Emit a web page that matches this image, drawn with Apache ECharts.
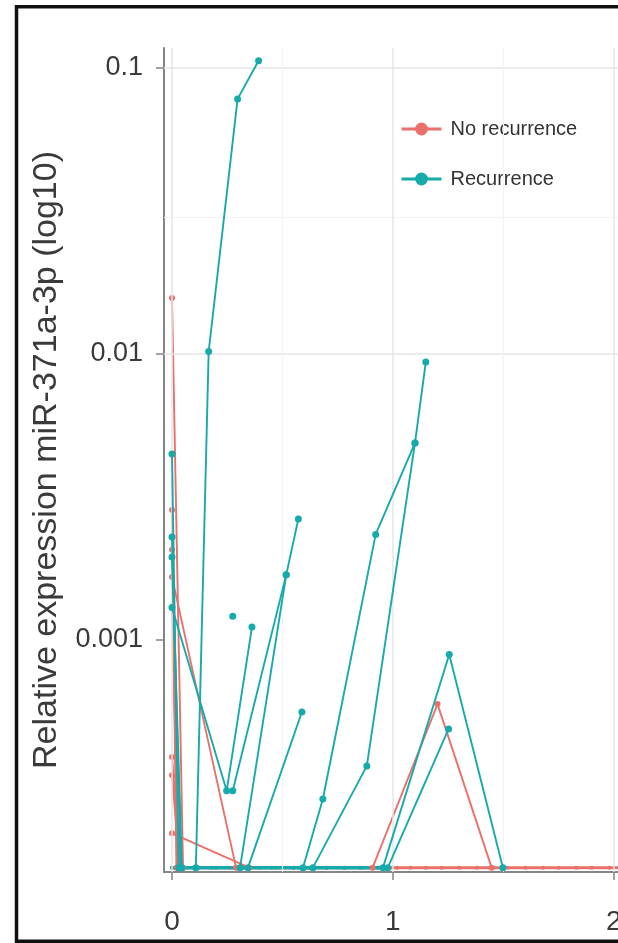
<!DOCTYPE html>
<html>
<head>
<meta charset="utf-8">
<script src="https://cdn.jsdelivr.net/npm/echarts@6/dist/echarts.min.js"></script>
<style>
html,body{margin:0;padding:0;background:#fff;}
#chart{width:618px;height:943px;}
</style>
</head>
<body>
<div id="chart"></div>
<script>
// ---- data ----
const FLOOR = 0.00016; // undetectable measurements plotted at the bottom
const xTicks = [0, 1, 2];
const yTicks = [0.001, 0.01, 0.1];
const yMinor = [0.000316, 0.00316, 0.0316];
const xMinor = [0.5, 1.5];
const seriesNames = ['No recurrence', 'Recurrence'];

// Recurrence patients
const rec1 = [[0.108, FLOOR], [0.166, 0.0102], [0.297, 0.078], [0.392, 0.106]];
const rec2 = [[0, 0.0013], [0.2475, 0.000297], [0.362, 0.00111]];
const rec3 = [[0.275, 0.000297], [0.517, 0.00169], [0.572, 0.00265]];
const rec4 = [[0.308, FLOOR], [0.517, 0.00169]];
const rec5 = [[0.344, FLOOR], [0.588, 0.00056]];
const rec6 = [[0.275, 0.00121]];
const rec7 = [[0.593, FLOOR], [0.683, 0.000278], [0.922, 0.00234], [1.10, 0.00489], [1.149, 0.00938]];
const rec8 = [[0.638, FLOOR], [0.882, 0.000363], [1.10, 0.00489]];
const rec9 = [[0.955, FLOOR], [1.255, 0.00089], [1.498, FLOOR]];
const rec10 = [[0.977, FLOOR], [1.252, 0.000489]];
const rec11 = [[0, 0.00447], [0.03, FLOOR]];
const rec12 = [[0, 0.00229], [0.04, FLOOR]];
const rec13 = [[0, 0.00195], [0.045, FLOOR]];
const recFloor = [[0, FLOOR], [0.05, FLOOR], [0.12, FLOOR], [0.2, FLOOR], [0.28, FLOOR], [0.35, FLOOR], [0.45, FLOOR], [0.55, FLOOR], [0.62, FLOOR], [0.7, FLOOR], [0.78, FLOOR], [0.85, FLOOR], [0.93, FLOOR], [0.98, FLOOR]];

// No-recurrence patients
const non1 = [[0, 0.0157], [0.05, FLOOR]];
const non2 = [[0, 0.00285], [0.02, FLOOR]];
const non3 = [[0, 0.00207], [0.025, FLOOR]];
const non4 = [[0, 0.00166], [0.29, FLOOR]];
const non5 = [[0, 0.0013], [0.03, FLOOR]];
const non6 = [[0, 0.00039], [0.04, FLOOR]];
const non7 = [[0, 0.000337], [0.035, FLOOR]];
const non8 = [[0, 0.000211], [0.35, FLOOR]];
const non9 = [[0.908, FLOOR], [1.202, 0.000597], [1.447, FLOOR]];
const nonFloor = [[0, FLOOR], [0.1, FLOOR], [0.18, FLOOR], [0.26, FLOOR], [0.33, FLOOR], [0.4, FLOOR], [0.47, FLOOR], [0.55, FLOOR], [0.62, FLOOR], [0.7, FLOOR], [0.78, FLOOR], [0.86, FLOOR], [0.95, FLOOR], [1.02, FLOOR], [1.08, FLOOR], [1.15, FLOOR], [1.22, FLOOR], [1.3, FLOOR], [1.38, FLOOR], [1.45, FLOOR], [1.52, FLOOR], [1.6, FLOOR], [1.68, FLOOR], [1.75, FLOOR], [1.83, FLOOR], [1.9, FLOOR], [1.98, FLOOR], [2.05, FLOOR], [2.12, FLOOR], [2.2, FLOOR]];

const recPatients = [rec1, rec2, rec3, rec4, rec5, rec6, rec7, rec8, rec9, rec10, rec11, rec12, rec13];
const nonPatients = [non1, non2, non3, non4, non5, non6, non7, non8, non9];

// ---- styles ----
const RED = '#E8716B';
const TEAL = '#17AAAB';
const FONT = "'Liberation Sans', Arial, sans-serif";

function lineSeries(name, data, color, z, size, width) {
  return {
    type: 'line', name: name, data: data, z: z,
    symbol: 'circle', symbolSize: size, showSymbol: true,
    clip: false, animation: false, silent: true,
    itemStyle: { color: color },
    lineStyle: { color: color, width: width }
  };
}

const series = [];
series.push({
  type: 'line', name: '_grid', data: [], z: 0, silent: true, animation: false,
  markLine: {
    silent: true, symbol: 'none', animation: false,
    label: { show: false },
    data: [].concat(
      yMinor.map(v => ({ yAxis: v, lineStyle: { color: '#f3f3f3', width: 1, type: 'solid' } })),
      yTicks.map(v => ({ yAxis: v, lineStyle: { color: '#e6e6e6', width: 1.5, type: 'solid' } })),
      xMinor.map(v => ({ xAxis: v, lineStyle: { color: '#f3f3f3', width: 1, type: 'solid' } })),
      xTicks.map(v => ({ xAxis: v, lineStyle: { color: '#e6e6e6', width: 1.5, type: 'solid' } }))
    )
  }
});
series.push(lineSeries(seriesNames[0], nonFloor, RED, 2, 4, 3));
series.push(lineSeries(seriesNames[1], recFloor, TEAL, 3, 4, 3.5));
nonPatients.forEach(d => series.push(lineSeries(seriesNames[0], d, RED, 4, 6, 1.9)));
recPatients.forEach(d => series.push(lineSeries(seriesNames[1], d, TEAL, 5, 7, 1.9)));

const chart = echarts.init(document.getElementById('chart'), null, { renderer: 'canvas' });
chart.setOption({
  animation: false,
  backgroundColor: '#ffffff',
  textStyle: { fontFamily: FONT },
  grid: { left: 164, top: 48, height: 824, width: 494, containLabel: false, outerBoundsMode: 'none' },
  legend: {
    data: seriesNames,
    orient: 'vertical',
    left: 400, top: 116,
    padding: 0,
    itemWidth: 40, itemHeight: 16, itemGap: 24,
    lineStyle: { width: 3 },
    textStyle: { fontSize: 20, color: '#333333', fontFamily: FONT, lineHeight: 26, padding: [0, 0, 0, 4] }
  },
  xAxis: {
    type: 'value',
    min: -0.0362, max: 2.2,
    axisLine: { show: true, onZero: false, lineStyle: { color: '#858585', width: 2 } },
    axisTick: { show: true, length: 8, customValues: xTicks, lineStyle: { color: '#858585', width: 1.5 } },
    axisLabel: { customValues: xTicks, margin: 36, fontSize: 28, color: '#3a3a3a', fontFamily: FONT,
      formatter: v => String(Math.round(v)) },
    splitLine: { show: false }
  },
  yAxis: {
    type: 'log', logBase: 10,
    min: 0.0001545, max: 0.1175,
    name: 'Relative expression miR-371a-3p (log10)',
    nameLocation: 'middle', nameGap: 100, nameRotate: 90,
    nameTextStyle: { fontSize: 34, color: '#3a3a3a', fontFamily: FONT },
    axisLine: { show: true, onZero: false, lineStyle: { color: '#858585', width: 2 } },
    axisTick: { show: true, length: 8, customValues: yTicks, lineStyle: { color: '#858585', width: 1.5 } },
    axisLabel: { customValues: yTicks, margin: 21, fontSize: 27, color: '#3a3a3a', fontFamily: FONT,
      formatter: v => String(+Number(v).toPrecision(3)) },
    splitLine: { show: false }
  },
  graphic: [{
    type: 'rect', silent: true, z: 100,
    shape: { x: 16.5, y: 6.75, width: 800, height: 934.5 },
    style: { fill: 'none', stroke: '#111111', lineWidth: 3.5 }
  }],
  series: series
});
</script>
</body>
</html>
